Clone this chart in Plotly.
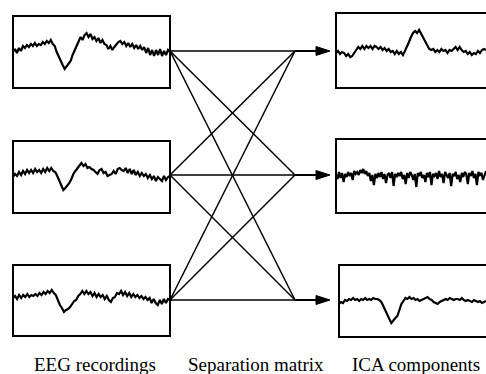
import plotly.graph_objects as go

# ---- signal data (amplitude in arbitrary units, one sample per step) ----
eeg_1 = [0, 3, -1, 4, 1, 6, 4, 7, 5, 8, 6, 9, 6, 8, 7, 10, 8, 11, 9, 12, 8, 6, 0, -5,
         -10, -13, -17, -14, -12, -9, -3, 2, 6, 10, 15, 12, 17, 19, 15, 18, 13, 15, 11,
         14, 9, 12, 8, 7, 3, 6, 2, 5, 8, 10, 11, 8, 10, 6, 9, 5, 8, 4, 7, 3, 6, 2, 5, -1,
         4, -3, 2, -4, 2, -3, 3, -4, 1, -3, 2, 0]
eeg_2 = [0, 3, 1, 5, 2, 6, 3, 7, 4, 7, 4, 8, 5, 7, 4, 8, 5, 9, 6, 9, 6, 5, 1, -4, -9,
         -13, -11, -9, -6, -2, 3, 6, 9, 12, 14, 11, 13, 9, 10, 8, 7, 5, 3, 7, 8, 4, 5,
         1, 2, 3, 6, 3, 8, 9, 7, 6, 9, 4, 8, 3, 7, 2, 5, 1, 4, 1, 3, -1, 2, -2, 1, -4,
         0, -2, -4, 1, -3, 0, 1]
eeg_3 = [2, 4, 1, 5, 2, 5, 3, 6, 3, 5, 4, 6, 4, 7, 5, 8, 6, 9, 7, 10, 7, 5, 0, -5, -8,
         -12, -10, -9, -7, -4, -1, 0, 4, 6, 9, 6, 9, 6, 8, 4, 7, 3, 6, 3, 5, 1, 4, 0, -2,
         2, 3, 7, 6, 9, 5, 8, 4, 7, 3, 6, 3, 5, 2, 4, 1, 3, 0, 2, -3, 1, -3, -5, 0, -4,
         1, -3, 1, 0]
ica_1 = [-2, 0, -3, -1, -2, -5, -3, -6, -5, -2, 1, 4, 2, 5, 2, 5, 3, 5, 2, 5, 4, 2, 4,
         1, 3, 0, 2, -1, 0, -3, 0, -3, -1, -4, 0, 4, 9, 14, 18, 20, 18, 21, 17, 13, 10,
         5, 2, 1, 2, -1, 1, -1, 2, 0, 1, -2, 1, 0, 2, 4, 1, 4, 1, -1, 0, -3, -1, -4, -2,
         -3, 0, -2, 1, 2, 1]
ica_2 = [1, -3, 4, -2, 3, -6, 2, -1, 4, 0, 3, -4, 5, 2, 4, 1, 6, 3, 7, 2, 5, 0, 3, -5,
         1, -9, 2, -2, 3, -1, 4, -3, 2, -7, 1, 3, -2, 4, -10, 2, -1, 3, 0, 4, -3, 1, -8,
         3, -2, 4, 1, -4, 2, -11, 3, 0, 4, -2, 1, -6, 3, -1, 4, -9, 2, 0, 3, -3, 5, -1,
         2, -7, 4, 1, -2, 3, -10, 2, 0, 4, -3, 1, -6, 3, -1, 4, 2, -8, 3, 0, 5, -2, 2,
         -9, 4, 1, 3, -4, 2, 5]
ica_3 = [-4, -2, -3, 0, -1, 1, 0, 2, 0, 1, -1, 1, 0, 2, 0, 1, 0, 2, 1, 1, 0, -2, -6,
         -11, -15, -19, -23, -20, -18, -16, -10, -4, -1, 2, 1, 3, 1, 2, 0, 1, -1, 0, 1,
         2, 3, 1, 0, -2, -3, -4, -2, -1, 0, 1, 0, 2, 1, 0, 1, 1, 0, 2, 0, -1, 0, -1, -2,
         0, -1, -2, -1, -3, -2, -1]

column_labels = ["EEG recordings", "Separation matrix", "ICA components"]

# ---- canvas / layout geometry (pixels) ----
W, H = 486, 374
# panel: (signal, left, right, top, bottom, baseline, closed right side)
panels = [
    (eeg_1, 13, 170, 16, 88, 52, True),
    (eeg_2, 13, 170, 141, 213, 177, True),
    (eeg_3, 13, 170, 265, 336, 300, True),
    (ica_1, 336, 486, 13, 88, 51, False),
    (ica_2, 336, 486, 139, 213, 176, False),
    (ica_3, 339, 486, 265, 337, 300, False),
]
out_y = [51, 175, 300]      # output level of each recording
merge_x = 295               # where the matrix lines converge
src_x = 170                 # right edge of recording panels
arrow_tip = 330
label_y = 364
label_x = [95, 256, 416]
frame_w = 2


def px(x):
    return x / W


def py(y):
    return 1 - y / H


fig = go.Figure()
layout = dict(
    width=W, height=H, margin=dict(l=0, r=0, t=0, b=0),
    paper_bgcolor="white", plot_bgcolor="rgba(0,0,0,0)", showlegend=False,
)
shapes = []

for k, (sig, x0, x1, y0, y1, base, closed) in enumerate(panels, start=1):
    xa = "x" if k == 1 else f"x{k}"
    ya = "y" if k == 1 else f"y{k}"
    fig.add_trace(go.Scatter(
        x=list(range(len(sig))), y=sig, xaxis=xa, yaxis=ya, mode="lines",
        line=dict(color="black", width=2.2), hoverinfo="skip",
    ))
    layout["xaxis" if k == 1 else f"xaxis{k}"] = dict(
        domain=[px(x0), px(x1)], range=[0, len(sig) - 1], anchor=ya, visible=False,
        fixedrange=True,
    )
    layout["yaxis" if k == 1 else f"yaxis{k}"] = dict(
        domain=[py(y1), py(y0)], range=[base - y1, base - y0], anchor=xa,
        visible=False, fixedrange=True,
    )
    # panel frame: open on the right for the component panels
    frame = (f"M {px(x1)} {py(y0)} L {px(x0)} {py(y0)} "
             f"L {px(x0)} {py(y1)} L {px(x1)} {py(y1)}")
    if closed:
        frame += " Z"
    shapes.append(dict(type="path", xref="paper", yref="paper", path=frame,
                       fillcolor="rgba(0,0,0,0)",
                       line=dict(color="black", width=frame_w)))

fig.update_layout(**layout)

# separation matrix: every recording feeds every component
for ys in out_y:
    for yd in out_y:
        shapes.append(dict(type="line", xref="paper", yref="paper",
                           x0=px(src_x), y0=py(ys), x1=px(merge_x), y1=py(yd),
                           line=dict(color="black", width=1.5)))
# arrows into the component panels
head_len, head_half = 14, 4.5
for yd in out_y:
    shapes.append(dict(type="line", xref="paper", yref="paper",
                       x0=px(merge_x), y0=py(yd), x1=px(arrow_tip - head_len), y1=py(yd),
                       line=dict(color="black", width=2)))
    path = (f"M {px(arrow_tip)} {py(yd)} "
            f"L {px(arrow_tip - head_len)} {py(yd - head_half)} "
            f"L {px(arrow_tip - head_len)} {py(yd + head_half)} Z")
    shapes.append(dict(type="path", xref="paper", yref="paper", path=path,
                       fillcolor="black", line=dict(color="black", width=1)))
fig.update_layout(shapes=shapes)

for text, lx in zip(column_labels, label_x):
    fig.add_annotation(text=text, x=px(lx), y=py(label_y), xref="paper", yref="paper",
                       showarrow=False, xanchor="center", yanchor="middle",
                       font=dict(family="Liberation Serif", size=19, color="black"))

fig.write_html("out.html")
